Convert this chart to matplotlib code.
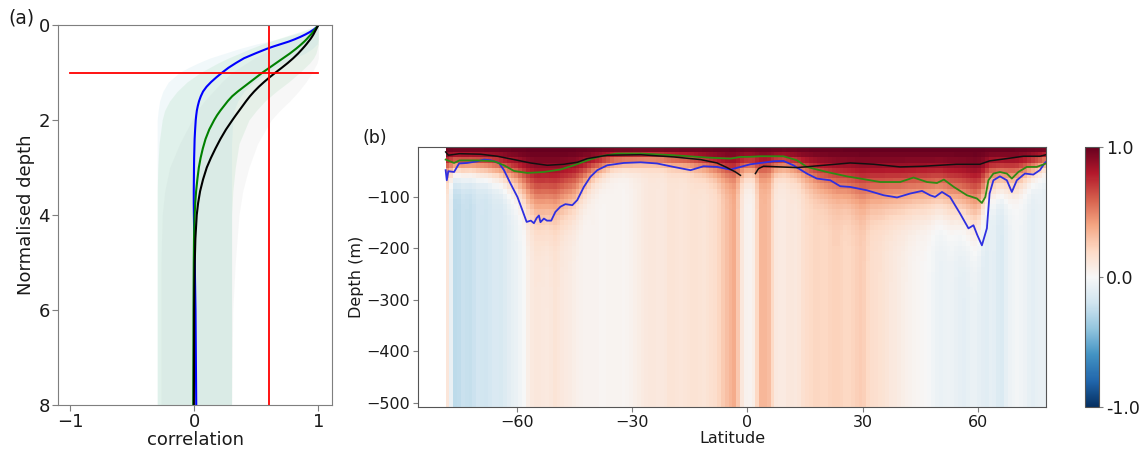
import numpy as np
import matplotlib
matplotlib.use("Agg")
import matplotlib.pyplot as plt

# ---------------- Panel (a) data ----------------
norm_depth = [0, 0.05, 0.1, 0.15, 0.2, 0.25, 0.3, 0.35, 0.4, 0.45, 0.5, 0.6, 0.7, 0.8,
              0.9, 1.0, 1.1, 1.2, 1.3, 1.4, 1.5, 1.6, 1.7, 1.8, 1.9, 2.0, 2.2, 2.4, 2.6,
              2.8, 3.0, 3.25, 3.5, 3.75, 4.0, 4.5, 5.0, 5.5, 6.0, 7.0, 8.0]
corr_blue = [1.0, 0.985, 0.96, 0.93, 0.895, 0.855, 0.81, 0.76, 0.70, 0.64, 0.585, 0.49,
             0.40, 0.335, 0.275, 0.225, 0.178, 0.135, 0.098, 0.07, 0.052, 0.038, 0.028,
             0.02, 0.015, 0.011, 0.006, 0.002, 0.0, -0.002, -0.003, -0.004, -0.005,
             -0.005, -0.004, -0.001, 0.003, 0.006, 0.009, 0.012, 0.015]
corr_green = [1.0, 0.985, 0.97, 0.955, 0.94, 0.922, 0.905, 0.886, 0.865, 0.843, 0.82,
              0.77, 0.715, 0.66, 0.605, 0.55, 0.5, 0.45, 0.4, 0.35, 0.305, 0.27, 0.24,
              0.21, 0.183, 0.16, 0.12, 0.09, 0.068, 0.05, 0.036, 0.024, 0.014, 0.007,
              0.002, -0.003, -0.005, -0.006, -0.007, -0.008, -0.009]
corr_black = [1.0, 0.99, 0.98, 0.97, 0.96, 0.948, 0.935, 0.92, 0.905, 0.889, 0.872,
              0.837, 0.797, 0.753, 0.705, 0.655, 0.607, 0.562, 0.52, 0.482, 0.448, 0.418,
              0.39, 0.362, 0.334, 0.307, 0.255, 0.21, 0.17, 0.133, 0.1, 0.07, 0.046, 0.03,
              0.019, 0.008, 0.003, 0.0, -0.002, -0.003, -0.004]
band_depth = [0, 0.1, 0.2, 0.3, 0.4, 0.5, 0.6, 0.7, 0.8, 0.9, 1.0, 1.2, 1.4, 1.6, 1.8,
              2.0, 2.5, 3.0, 3.5, 4.0, 5.0, 6.0, 8.0]
band_blue_lo = [1, 0.93, 0.8, 0.67, 0.5, 0.36, 0.24, 0.12, 0.03, -0.05, -0.12, -0.21,
                -0.255, -0.28, -0.292, -0.3, -0.3, -0.3, -0.3, -0.3, -0.3, -0.3, -0.3]
band_blue_hi = [1, 1, 1, 1, 0.99, 0.95, 0.89, 0.8, 0.72, 0.65, 0.6, 0.48, 0.4, 0.35,
                0.32, 0.31, 0.3, 0.3, 0.3, 0.3, 0.3, 0.3, 0.3]
band_green_lo = [1, 0.9, 0.78, 0.66, 0.55, 0.45, 0.36, 0.27, 0.19, 0.12, 0.05, -0.06,
                 -0.14, -0.2, -0.24, -0.26, -0.285, -0.295, -0.3, -0.3, -0.3, -0.3, -0.3]
band_green_hi = [1, 1, 1, 1, 1, 0.99, 0.98, 0.96, 0.93, 0.89, 0.85, 0.76, 0.66, 0.57,
                 0.5, 0.44, 0.36, 0.33, 0.31, 0.3, 0.3, 0.3, 0.3]
band_gray_lo = [1, 0.93, 0.86, 0.78, 0.7, 0.62, 0.55, 0.48, 0.42, 0.36, 0.3, 0.22, 0.15,
                0.08, 0.02, -0.02, -0.12, -0.2, -0.24, -0.26, -0.27, -0.27, -0.27]
band_gray_hi = [1, 1, 1, 1, 1, 1, 1, 1, 0.99, 0.97, 0.95, 0.9, 0.84, 0.77, 0.69, 0.62,
                0.51, 0.44, 0.39, 0.36, 0.33, 0.31, 0.3]
red_corr = 0.6
red_depth = 1.0

# ---------------- Panel (b) data ----------------
deep_lat = [-78, -77, -76, -74, -72, -70, -68, -66, -64, -62, -60, -58, -57, -55, -52,
            -50, -48, -46, -44, -42, -40, -38, -35, -32, -30, -28, -25, -22, -20, -17,
            -14, -11, -8, -6, -4, -3, -2, -1, 0, 1, 2, 3, 4, 5, 6, 7, 9, 11, 13, 15, 18,
            20, 23, 26, 28, 30, 32, 35, 38, 41, 44, 47, 50, 53, 56, 59, 62, 64, 66, 68,
            70, 72, 74, 76, 78]
deep_val = [0.12, -0.1, -0.28, -0.22, -0.24, -0.18, -0.2, -0.15, -0.16, -0.1, -0.06,
            0.0, 0.08, 0.12, 0.1, 0.14, 0.1, 0.08, 0.05, 0.03, 0.04, 0.02, 0.03, 0.02,
            0.05, 0.08, 0.12, 0.1, 0.14, 0.12, 0.15, 0.13, 0.18, 0.28, 0.35, 0.38, 0.2,
            0.06, 0.03, 0.04, 0.08, 0.3, 0.35, 0.32, 0.3, 0.12, 0.08, 0.12, 0.1, 0.18,
            0.22, 0.2, 0.24, 0.2, 0.23, 0.26, 0.18, 0.15, 0.1, 0.06, 0.02, 0.0, -0.07,
            -0.05, -0.1, -0.06, -0.12, -0.08, -0.16, -0.06, -0.02, -0.04, -0.1, -0.07,
            -0.08]
pen_lat = [-78, -70, -65, -60, -55, -50, -45, -40, -35, -25, -15, -5, 0, 5, 10, 15, 20,
           30, 40, 50, 55, 60, 63, 70, 78]
pen_depth = [40, 40, 45, 60, 90, 90, 75, 45, 30, 25, 30, 45, 40, 40, 35, 45, 60, 75, 80,
             80, 90, 105, 60, 55, 30]

blue_lat = [-78.6, -78.3, -77.9, -76.4, -75.1, -73.0, -70.3, -68.6, -66.9, -64.7, -63.4,
            -61.7, -59.9, -58.6, -57.5, -56.4, -55.6, -54.9, -54.3, -53.9, -53.0, -52.2,
            -51.1, -50.0, -48.7, -47.4, -45.6, -44.3, -42.6, -40.9, -39.1, -36.5, -32.2,
            -27.8, -23.5, -19.2, -14.8, -11.4, -7.9, -4.4, -1.8, 0.8, 2.5, 6.8, 9.4, 12.0,
            15.5, 18.1, 21.6, 24.2, 26.8, 31.1, 35.5, 39.0, 42.4, 45.5, 47.6, 48.9, 50.7,
            52.8, 55.4, 57.6, 58.9, 59.9, 61.1, 62.4, 63.1, 64.1, 65.8, 67.6, 68.9, 70.2,
            72.3, 74.5, 76.2, 77.5, 77.8]
blue_dep = [-48, -67.6, -50, -51.5, -35, -34, -30.7, -27.4, -28.7, -34, -48, -74, -100,
            -126, -148.5, -146, -151, -141, -136, -149, -142, -146, -146, -129, -119, -114,
            -116, -106, -80.6, -61, -48, -38.5, -34, -32.7, -35, -41.7, -48, -40.4, -41.7,
            -46.8, -41.7, -36.5, -35, -30.7, -30.1, -38.5, -54.6, -64.3, -67.6, -79.2,
            -80.6, -87, -96.7, -101, -93.4, -88.3, -96.7, -100, -90.3, -100, -132, -161,
            -155, -174, -194, -161, -93.4, -67.6, -60, -67.6, -90.3, -67.6, -54.6, -56.5,
            -48, -34, -32]
green_lat = [-78.6, -76.4, -75.0, -70.3, -66.0, -63.4, -60.8, -57.3, -53.0, -48.7, -45.2,
             -41.7, -38.3, -33.9, -27.8, -19.2, -10.5, -4.4, -1.8, 0.8, 3.4, 9.4, 12.9,
             15.5, 20.7, 25.9, 29.4, 34.6, 39.8, 43.3, 46.8, 49.4, 51.2, 53.8, 57.2, 59.8,
             61.1, 62.0, 62.8, 64.1, 65.8, 67.6, 68.9, 70.6, 72.8, 75.4, 77.8]
green_dep = [-27.4, -34, -29, -29, -30.7, -38.5, -49.5, -53.4, -51.5, -46.8, -38.5, -29,
             -21, -15.7, -15.7, -19, -23.5, -25.5, -22.3, -22, -21, -21, -28.7, -41.7,
             -51.5, -60, -64.3, -71, -71, -62.3, -71, -72.9, -66.3, -80.6, -96.7, -103,
             -111.7, -100, -67.6, -54.6, -51.5, -54.6, -64.3, -51.5, -41.7, -41.7, -35]
black_s_lat = [-78.6, -77.9, -75.0, -69.5, -65.1, -60.8, -56.5, -52.1, -47.8, -44.3,
               -41.7, -36.5, -27.8, -19.2, -12.2, -7.9, -5.3, -3.1, -1.8]
black_s_dep = [-12.6, -19, -16, -17, -21, -27.4, -34, -38.5, -36.5, -32.7, -25.5, -19,
               -18, -22.3, -27.4, -34, -43, -51.5, -58]
black_n_lat = [2.1, 2.9, 4.2, 8.6, 12.9, 19.9, 26.8, 32.9, 39.8, 45.8, 54.5, 60.6, 63.1,
               67.6, 71.9, 76.2, 77.8]
black_n_dep = [-54.6, -45, -40.4, -41.7, -43, -38.5, -34, -36.5, -41.7, -40.4, -36.5,
               -36.5, -30, -25.5, -21, -21, -18]

# ---------------- Styling ----------------
plt.rcParams["font.family"] = "DejaVu Sans"
edge = "#7f7f7f"
txt = "#1a1a1a"

fig = plt.figure(figsize=(11.41, 4.5), dpi=100)

# ---- Panel (a)
axa = fig.add_axes([58 / 1141, 45 / 450, 274 / 1141, 380 / 450])
bd = np.array(band_depth)
axa.fill_betweenx(bd, band_gray_lo, band_gray_hi, color="#808080", alpha=0.06, lw=0)
axa.fill_betweenx(bd, band_blue_lo, band_blue_hi, color="#add8e6", alpha=0.17, lw=0)
axa.fill_betweenx(bd, band_green_lo, band_green_hi, color="#3cb45a", alpha=0.09, lw=0)
d = np.array(norm_depth)
axa.plot(corr_blue, d, color="blue", lw=1.5)
axa.plot(corr_green, d, color="green", lw=1.5)
axa.plot(corr_black, d, color="black", lw=1.5)
axa.axvline(red_corr, color="red", lw=1.3)
axa.plot([-1, 1], [red_depth, red_depth], color="red", lw=1.3)
axa.set_xlim(-1.1, 1.11)
axa.set_ylim(8, 0)
axa.set_xticks([-1, 0, 1])
axa.set_yticks([0, 2, 4, 6, 8])
axa.tick_params(labelsize=13, colors=edge, labelcolor=txt, length=4, pad=2)
axa.set_xlabel("correlation", fontsize=13, color=txt, labelpad=0)
axa.set_ylabel("Normalised depth", fontsize=13, color=txt, labelpad=2)
for s in axa.spines.values():
    s.set_color(edge)
fig.text(8 / 1141, 1 - 18 / 450, "(a)", fontsize=13.5, color=txt, va="center")

# ---- Panel (b)
axb = fig.add_axes([418 / 1141, 43 / 450, 628 / 1141, 260 / 450])
lat_edges = np.linspace(-78.6, 77.8, 158)
z_edges = np.linspace(-3, -508, 51)
lat_c = 0.5 * (lat_edges[1:] + lat_edges[:-1])
z_c = 0.5 * (z_edges[1:] + z_edges[:-1])
deep = np.interp(lat_c, deep_lat, deep_val)
H = np.interp(lat_c, pen_lat, pen_depth)
field = deep[None, :] + (1 - deep[None, :]) * np.exp(
    -np.log(2) * (np.abs(z_c)[:, None] / H[None, :]) ** 2)
mesh = axb.pcolormesh(lat_edges, z_edges, field, cmap="RdBu_r", vmin=-1, vmax=1,
                      shading="flat", rasterized=True)
axb.plot(blue_lat, blue_dep, color="#2f2fe0", lw=1.3)
axb.plot(green_lat, green_dep, color="#2f8a14", lw=1.3)
axb.plot(black_s_lat, black_s_dep, color="#111111", lw=1.1)
axb.plot(black_n_lat, black_n_dep, color="#111111", lw=1.1)
axb.set_xlim(-85.8, 77.8)
axb.set_ylim(-508, -3)
axb.set_xticks([-60, -30, 0, 30, 60])
axb.set_yticks([-100, -200, -300, -400, -500])
axb.tick_params(labelsize=11.5, colors=edge, labelcolor=txt, length=3.5, pad=2)
axb.set_xlabel("Latitude", fontsize=11.5, color=txt, labelpad=1)
axb.set_ylabel("Depth (m)", fontsize=11.5, color=txt, labelpad=2)
for s in axb.spines.values():
    s.set_color("#555555")
fig.text(362 / 1141, 1 - 138 / 450, "(b)", fontsize=12.5, color=txt, va="center")

# ---- Colorbar
cax = fig.add_axes([1085 / 1141, 43 / 450, 14 / 1141, 260 / 450])
cb = fig.colorbar(mesh, cax=cax)
cb.set_ticks([-1, 0, 1])
cb.set_ticklabels(["-1.0", "0.0", "1.0"])
cb.ax.tick_params(labelsize=12.5, colors=edge, labelcolor=txt, length=3, pad=2)
cb.outline.set_edgecolor("#555555")

fig.savefig("out.png", dpi=100)
